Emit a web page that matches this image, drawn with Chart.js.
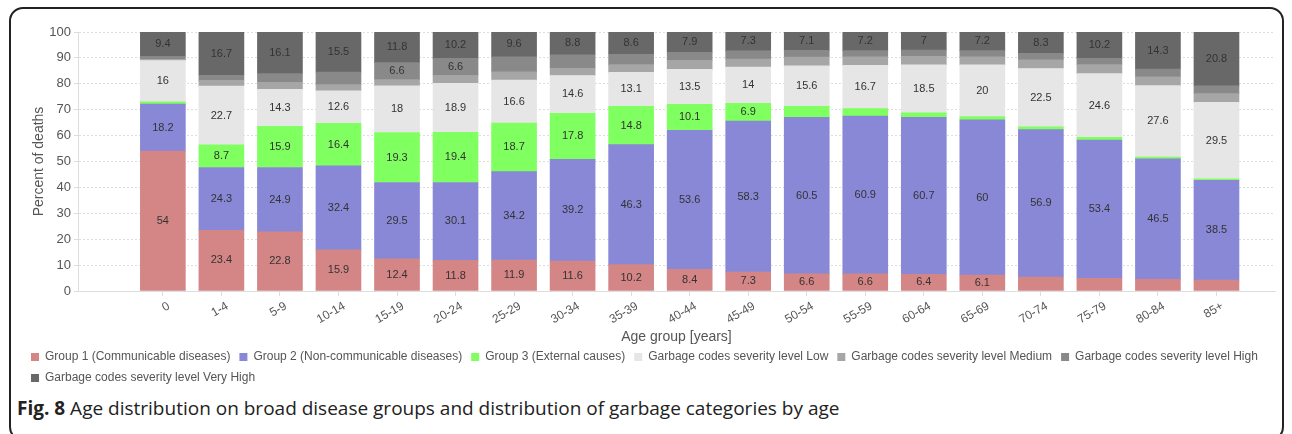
<!DOCTYPE html>
<html>
<head>
<meta charset="utf-8">
<script src="https://cdn.jsdelivr.net/npm/chart.js@4/dist/chart.umd.min.js"></script>
<style>
  html, body { margin: 0; padding: 0; background: #fff; }
  body { width: 1292px; height: 434px; position: relative; overflow: hidden; }
  .frame {
    position: absolute; left: 9px; top: 7px; width: 1271px; height: 430px;
    border: 2px solid #222; border-radius: 14px;
  }
  .wrap { position: absolute; left: 7px; top: 0; width: 1278px; height: 394px; }
  .caption {
    position: absolute; left: 17px; top: 395px;
    font-family: "Open Sans", sans-serif; font-size: 19px; color: #222;
  }
  .caption b { font-weight: 700; }
</style>
</head>
<body>
<div class="frame"></div>
<div class="wrap"><canvas id="chart"></canvas></div>
<div class="caption"><b>Fig. 8</b> Age distribution on broad disease groups and distribution of garbage categories by age</div>
<script>
// age groups
const categories = ['0', '1-4', '5-9', '10-14', '15-19', '20-24', '25-29', '30-34', '35-39',
  '40-44', '45-49', '50-54', '55-59', '60-64', '65-69', '70-74', '75-79', '80-84', '85+'];

// percent of deaths per group
const group1 = [54, 23.4, 22.8, 15.9, 12.4, 11.8, 11.9, 11.6, 10.2, 8.4, 7.3, 6.6, 6.6, 6.4, 6.1, 5.4, 4.9, 4.5, 4.2];
const group2 = [18.2, 24.3, 24.9, 32.4, 29.5, 30.1, 34.2, 39.2, 46.3, 53.6, 58.3, 60.5, 60.9, 60.7, 60, 56.9, 53.4, 46.5, 38.5];
const group3 = [0.8, 8.7, 15.9, 16.4, 19.3, 19.4, 18.7, 17.8, 14.8, 10.1, 6.9, 4.2, 2.9, 1.7, 1.2, 1.1, 1.0, 0.7, 0.6];
const garbageLow = [16, 22.7, 14.3, 12.6, 18, 18.9, 16.6, 14.6, 13.1, 13.5, 14, 15.6, 16.7, 18.5, 20, 22.5, 24.6, 27.6, 29.5];
const garbageMedium = [0.4, 2.2, 2.7, 2.4, 2.4, 3.0, 3.2, 2.8, 3.0, 3.5, 3.0, 3.4, 3.3, 3.3, 3.1, 3.4, 3.5, 3.4, 3.4];
const garbageHigh = [1.2, 2.0, 3.3, 4.8, 6.6, 6.6, 5.8, 5.2, 4.0, 3.0, 3.2, 2.6, 2.4, 2.4, 2.4, 2.4, 2.4, 3.0, 3.0];
const garbageVeryHigh = [9.4, 16.7, 16.1, 15.5, 11.8, 10.2, 9.6, 8.8, 8.6, 7.9, 7.3, 7.1, 7.2, 7, 7.2, 8.3, 10.2, 14.3, 20.8];

const yTicks = [0, 10, 20, 30, 40, 50, 60, 70, 80, 90, 100];

const font = '"Liberation Sans", Arial, sans-serif';

function series(label, values, color) {
  return {
    label,
    data: values.map((v, i) => ({ x: i, y: v })),
    backgroundColor: color,
    borderWidth: 0,
    barThickness: 45
  };
}

// value labels in the segments (big enough ones only)
const segmentLabels = {
  id: 'segmentLabels',
  afterDatasetsDraw(chart) {
    const ctx = chart.ctx;
    ctx.save();
    ctx.font = '11px ' + font;
    ctx.fillStyle = '#333';
    ctx.textAlign = 'center';
    ctx.textBaseline = 'middle';
    chart.data.datasets.forEach((ds, di) => {
      const meta = chart.getDatasetMeta(di);
      meta.data.forEach((bar, i) => {
        const v = ds.data[i].y;
        if (v < 6) return;
        ctx.fillText(String(v), bar.x, (bar.y + bar.base) / 2);
      });
    });
    ctx.restore();
  }
};

new Chart(document.getElementById('chart'), {
  type: 'bar',
  data: {
    datasets: [
      series('Group 1 (Communicable diseases)', group1, '#d48585'),
      series('Group 2 (Non-communicable diseases)', group2, '#8888d6'),
      series('Group 3 (External causes)', group3, '#80ff60'),
      series('Garbage codes severity level Low', garbageLow, '#e6e6e6'),
      series('Garbage codes severity level Medium', garbageMedium, '#a6a6a6'),
      series('Garbage codes severity level High', garbageHigh, '#898989'),
      series('Garbage codes severity level Very High', garbageVeryHigh, '#686868')
    ]
  },
  options: {
    responsive: true,
    maintainAspectRatio: false,
    animation: false,
    layout: { padding: { top: 32, right: 10, left: 15, bottom: 0 } },
    plugins: {
      tooltip: { enabled: false },
      legend: {
        position: 'bottom',
        align: 'start',
        labels: {
          boxWidth: 8, boxHeight: 8, padding: 9,
          color: '#555', font: { family: font, size: 12 }
        }
      }
    },
    scales: {
      x: {
        type: 'linear',
        stacked: true,
        offset: false,
        min: -1.45,
        max: 19,
        afterBuildTicks: (axis) => { axis.ticks = categories.map((c, i) => ({ value: i })); },
        afterFit: (axis) => { axis.height = 51; },
        ticks: {
          autoSkip: false, minRotation: 30, maxRotation: 30, labelOffset: 6,
          color: '#555', font: { family: font, size: 12 },
          callback: (v) => categories[v]
        },
        grid: { offset: false, drawOnChartArea: false, drawTicks: true, tickLength: 5, color: '#ddd' },
        border: { color: '#ddd' },
        title: {
          display: true, text: 'Age group [years]', color: '#555',
          font: { family: font, size: 14 }, padding: { top: 0, bottom: -4 }
        }
      },
      y: {
        stacked: true,
        min: 0,
        max: 100,
        afterBuildTicks: (axis) => { axis.ticks = yTicks.map((v) => ({ value: v })); },
        afterFit: (axis) => { axis.width = 56; },
        ticks: { color: '#555', padding: 3, font: { family: font, size: 13 } },
        grid: { color: '#ddd', tickLength: 4 },
        border: { color: '#ddd', dash: [2, 2] },
        title: {
          display: true, text: 'Percent of deaths', color: '#555',
          font: { family: font, size: 14 }, padding: { top: 9, bottom: 0 }
        }
      }
    }
  },
  plugins: [segmentLabels]
});
</script>
</body>
</html>
